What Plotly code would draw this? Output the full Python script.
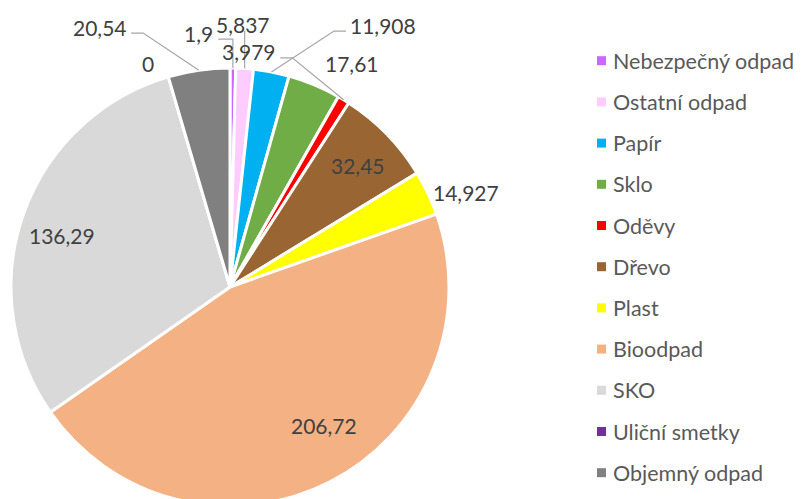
import math
import plotly.graph_objects as go

# ---------------- data ----------------
categories = ["Nebezpečný odpad", "Ostatní odpad", "Papír", "Sklo", "Oděvy", "Dřevo",
              "Plast", "Bioodpad", "SKO", "Uliční smetky", "Objemný odpad"]
values = [1.9, 5.837, 11.908, 17.61, 3.979, 32.45, 14.927, 206.72, 136.29, 0, 20.54]
colors = ["#CC66FF", "#FFCCFF", "#00B0F0", "#70AD47", "#FF0000", "#996633",
          "#FFFF00", "#F4B183", "#D9D9D9", "#7030A0", "#808080"]

# ---------------- layout / style ----------------
OFF = 8                      # page body margin compensation
W, H = 803, 512
CX, CY, R = 230, 287, 219    # screen-pixel geometry of the pie
FONT = "Lato"
LABEL_COLOR = "#404040"
LEGEND_COLOR = "#595959"
LEADER_COLOR = "#A6A6A6"

# label placement: angle shift from slice bisector (deg), radius factor, leader line
label_angle_shift = [-7.8, -1.0, 19.4, 6.0, -26.6, 0.6, 3.5, -6.8, -2.2, -3.8, -18.4]
label_radius = [1.168, 1.198, 1.385, 1.165, 1.077, 0.807, 1.162, 0.765, 0.803, 1.089, 1.327]
label_leader = [True, True, True, False, True, False, False, False, False, False, True]


def px2paper(x, y):
    return (x - OFF) / W, 1 - (y - OFF) / H


def polar(theta_deg, r):
    t = math.radians(theta_deg)
    return CX + r * math.sin(t), CY - r * math.cos(t)


def fmt(v):
    return f"{v:g}".replace(".", ",")


dx0, dy1 = px2paper(CX - R, CY - R)
dx1, dy0 = px2paper(CX + R, CY + R)

fig = go.Figure()
fig.add_trace(go.Pie(
    labels=categories, values=values, sort=False, direction="clockwise", rotation=0,
    marker=dict(colors=colors, line=dict(color="white", width=3)),
    textinfo="none", showlegend=False, hoverinfo="label+value",
    domain=dict(x=[dx0, dx1], y=[dy0, dy1]),
))

total = sum(values)
annotations = []
shapes = []
cum = 0.0
for i, v in enumerate(values):
    mid = (cum + v / 2) / total * 360.0
    cum += v
    text = fmt(v)
    lx, ly = polar(mid + label_angle_shift[i], label_radius[i] * R)
    ax, ay = px2paper(lx, ly)
    annotations.append(dict(x=ax, y=ay, xref="paper", yref="paper", text=text,
                            showarrow=False, xanchor="center", yanchor="middle",
                            font=dict(family=FONT, size=21, color=LABEL_COLOR)))
    if label_leader[i]:
        wtxt = sum(11.6 if c.isdigit() else 6 for c in text)
        ex, ey = polar(mid, R)
        sy = ly + 6
        if ex > lx + wtxt / 2:
            sx = lx + wtxt / 2 + 5
            bx = ex if ex - sx < 25 else sx + 12
            pts = [(sx, sy), (bx, sy), (ex, ey)]
        elif ex < lx - wtxt / 2:
            sx = lx - wtxt / 2 - 5
            bx = ex if sx - ex < 25 else sx - 12
            pts = [(sx, sy), (bx, sy), (ex, ey)]
        else:
            pts = [(ex, sy), (ex, ey)]
        path = "M " + " L ".join(f"{px2paper(x, y)[0]:.5f},{px2paper(x, y)[1]:.5f}" for x, y in pts)
        shapes.append(dict(type="path", path=path, xref="paper", yref="paper",
                           line=dict(color=LEADER_COLOR, width=1.2)))

# manual legend (to reproduce the wide item spacing)
LEG_X, LEG_Y0, LEG_DY, SQ = 601.5, 60.7, 41.2, 9
for i, name in enumerate(categories):
    y = LEG_Y0 + i * LEG_DY
    x0, y0 = px2paper(LEG_X - SQ / 2, y + SQ / 2)
    x1, y1 = px2paper(LEG_X + SQ / 2, y - SQ / 2)
    shapes.append(dict(type="rect", xref="paper", yref="paper", x0=x0, x1=x1, y0=y0, y1=y1,
                       fillcolor=colors[i], line=dict(width=0)))
    tx, ty = px2paper(LEG_X + 9.5, y)
    annotations.append(dict(x=tx, y=ty, xref="paper", yref="paper", text=name, showarrow=False,
                            xanchor="left", yanchor="middle",
                            font=dict(family=FONT, size=21.5, color=LEGEND_COLOR)))

fig.update_layout(
    width=W, height=H, margin=dict(l=0, r=0, t=0, b=0),
    paper_bgcolor="white", plot_bgcolor="white",
    annotations=annotations, shapes=shapes, showlegend=False,
)
fig.write_html("out.html")
